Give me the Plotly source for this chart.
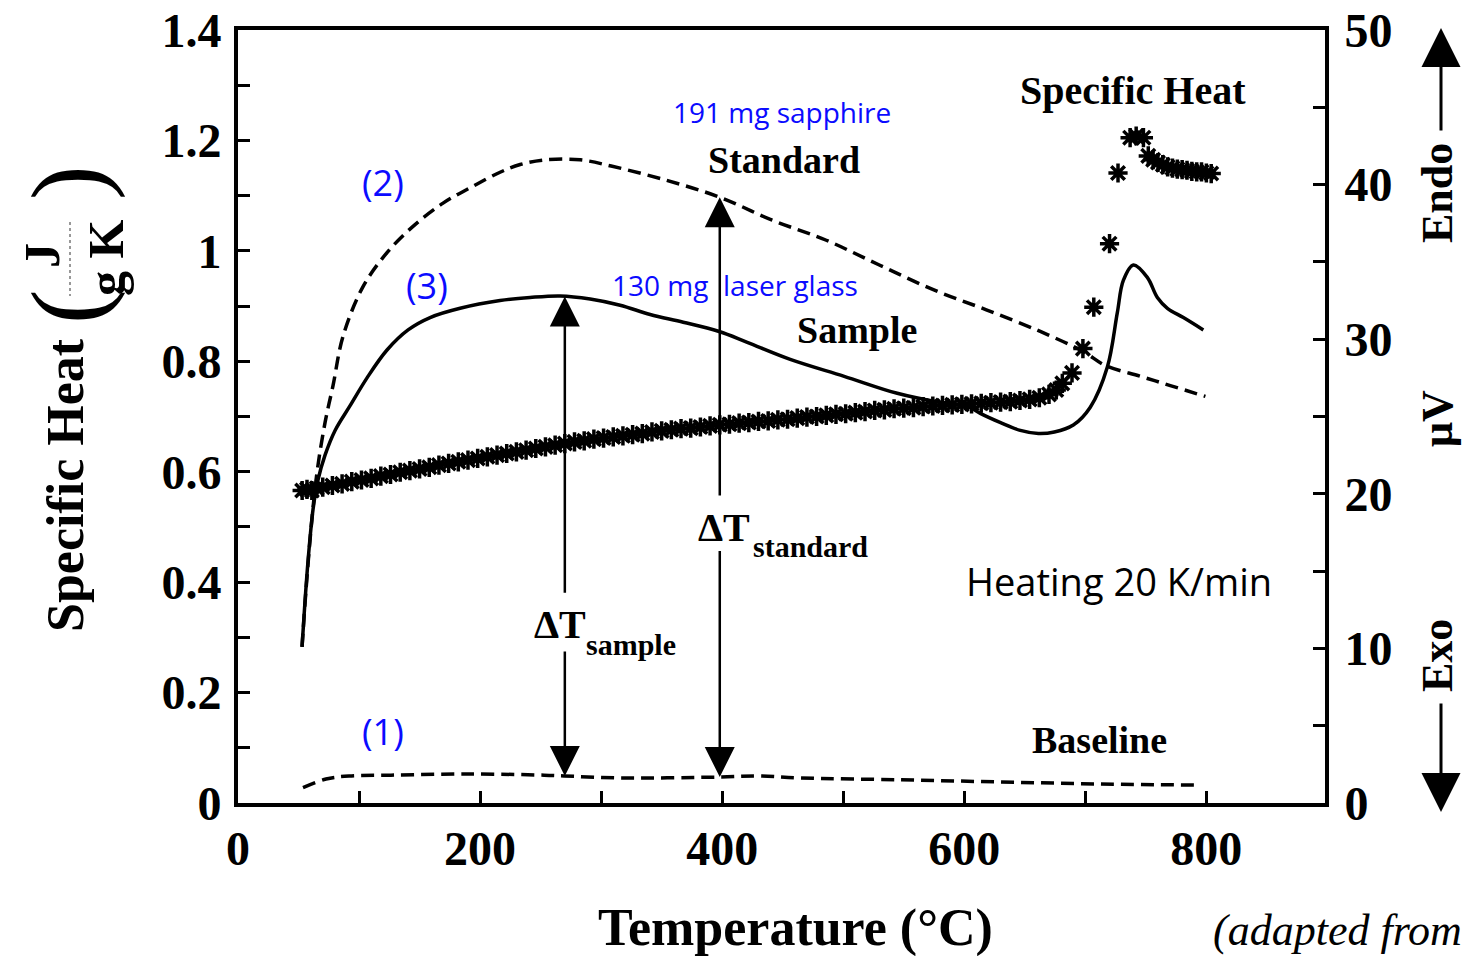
import numpy as np
import plotly.graph_objects as go

# ---------------------------------------------------------------
# DSC traces (right axis, µV) and computed specific heat (left axis)
# ---------------------------------------------------------------

# (1) empty-pan baseline
base_temp = [53.7, 72.7, 91.7, 126.4, 190.1, 252.9, 269.4, 316.5, 398.3,
             431.4, 464.5, 547.1, 629.8, 712.4, 795.0]
base_uv = [1.0, 1.55, 1.75, 1.8, 1.88, 1.8, 1.75, 1.62, 1.68,
           1.75, 1.62, 1.5, 1.36, 1.23, 1.16]

# (2) 191 mg sapphire standard
std_temp = [52.9, 56.2, 60.3, 65.3, 71.9, 78.5, 86.8, 103.3, 123.1, 144.6,
            169.4, 194.2, 216.5, 233.1, 253.7, 282.6, 308.3, 352.9, 397.5,
            441.3, 486.0, 529.8, 574.4, 618.2, 662.8, 698.3, 716.5, 745.5,
            770.2, 799.2]
std_uv = [10.1, 13.8, 17.7, 21.4, 24.6, 27.0, 30.2, 33.4, 35.6, 37.3,
          38.8, 39.9, 40.8, 41.3, 41.6, 41.6, 41.2, 40.3, 39.2,
          37.7, 36.4, 34.8, 33.2, 31.9, 30.5, 29.2, 28.3, 27.6,
          27.0, 26.3]

# (3) 130 mg laser glass sample
smp_temp = [52.9, 55.4, 57.9, 62.0, 66.1, 71.9, 80.2, 92.6, 106.6, 123.1,
            140.5, 158.7, 183.5, 216.5, 241.3, 266.1, 290.9, 315.7, 340.5,
            367.8, 397.5, 420.7, 456.2, 500.8, 544.6, 580.2, 604.1, 613.2,
            630.0, 646.3, 661.2, 674.4, 690.1, 704.1, 718.2, 726.4, 731.4,
            739.7, 751.2, 759.5, 767.8, 781.0, 797.5]
smp_uv = [10.1, 13.1, 15.7, 19.0, 20.9, 22.5, 24.1, 25.7, 27.5, 29.3,
          30.6, 31.4, 32.0, 32.5, 32.7, 32.8, 32.6, 32.2, 31.6,
          31.1, 30.5, 29.8, 28.7, 27.6, 26.5, 25.9, 25.6, 25.2,
          24.6, 24.1, 23.9, 24.0, 24.45, 25.6, 28.2, 31.7, 33.8,
          34.8, 34.0, 32.7, 32.0, 31.4, 30.6]

# specific heat of the glass, J/(g K)
cp_temp = [53, 57, 61, 65, 70, 78, 86, 94, 102, 110, 118, 126, 134, 142, 150,
           158, 166, 174, 182, 190, 198, 206, 214, 222, 230, 238, 246, 254,
           262, 270, 278, 286, 294, 302, 310, 318, 326, 334, 342, 350, 358,
           366, 374, 382, 390, 398, 406, 414, 422, 430, 438, 446, 454, 462,
           470, 478, 486, 494, 502, 510, 518, 526, 534, 542, 550, 558, 566,
           574, 582, 590, 598, 606, 614, 622, 630, 638, 646, 654, 662, 670,
           676, 681, 689, 698, 707, 720, 727, 737, 742, 748, 752, 756, 760,
           764, 768, 772, 776, 780, 784, 788, 792, 796, 800, 804]
cp_val = [0.566, 0.568, 0.566, 0.570, 0.572, 0.575, 0.578, 0.582, 0.585,
          0.588, 0.592, 0.595, 0.599, 0.602, 0.605, 0.608, 0.612, 0.615,
          0.618, 0.621, 0.624, 0.627, 0.630, 0.633, 0.636, 0.639, 0.642,
          0.645, 0.648, 0.651, 0.654, 0.656, 0.659, 0.661, 0.663, 0.665,
          0.667, 0.669, 0.672, 0.674, 0.676, 0.678, 0.679, 0.681, 0.683,
          0.685, 0.686, 0.688, 0.689, 0.691, 0.692, 0.694, 0.695, 0.697,
          0.699, 0.700, 0.702, 0.704, 0.705, 0.707, 0.709, 0.711, 0.712,
          0.714, 0.715, 0.716, 0.718, 0.719, 0.720, 0.721, 0.722, 0.723,
          0.724, 0.725, 0.726, 0.727, 0.729, 0.731, 0.734, 0.740,
          0.748, 0.760, 0.779, 0.823, 0.898, 1.013, 1.141, 1.205, 1.208,
          1.205, 1.172, 1.165, 1.160, 1.156, 1.152, 1.150, 1.148, 1.147,
          1.146, 1.144, 1.143, 1.143, 1.141, 1.140]

# axis ticks
x_tickvals = [0, 100, 200, 300, 400, 500, 600, 700, 800]
x_ticktext = ["0", "", "200", "", "400", "", "600", "", "800"]
cp_tickvals = [0, 0.1, 0.2, 0.3, 0.4, 0.5, 0.6, 0.7, 0.8, 0.9, 1.0, 1.1, 1.2, 1.3, 1.4]
cp_ticktext = ["0", "", "0.2", "", "0.4", "", "0.6", "", "0.8", "", "1", "", "1.2", "", "1.4"]
uv_tickvals = [0, 5, 10, 15, 20, 25, 30, 35, 40, 45, 50]
uv_ticktext = ["0", "", "10", "", "20", "", "30", "", "40", "", "50"]

# temperatures at which the ΔT arrows are drawn
t_arrow_sample = 270
t_arrow_standard = 398

# ---------------------------------------------------------------
W, H = 1468, 956
ML, MR, MT, MB = 238, 143, 30, 153
PW, PH = W - ML - MR, H - MT - MB

def px(x):
    return (x - ML) / PW

def py(y):
    return (H - MB - y) / PH

SERIF = "Liberation Serif"
SANS = "Open Sans"
BLUE = "#0b0bff"

fig = go.Figure()

dash_pat = "13px,7px"
fig.add_trace(go.Scatter(x=base_temp, y=base_uv, yaxis="y2", mode="lines",
                         line=dict(color="black", width=3.5, dash=dash_pat, shape="spline")))
fig.add_trace(go.Scatter(x=std_temp, y=std_uv, yaxis="y2", mode="lines",
                         line=dict(color="black", width=3.5, dash=dash_pat, shape="spline")))
fig.add_trace(go.Scatter(x=smp_temp, y=smp_uv, yaxis="y2", mode="lines",
                         line=dict(color="black", width=3.5, shape="spline")))
fig.add_trace(go.Scatter(x=cp_temp, y=cp_val, mode="markers",
                         marker=dict(symbol="asterisk-open", size=16, color="black",
                                     line=dict(color="black", width=3.5))))

tickfont = dict(family=SERIF, size=48, color="black", weight="bold")
axis_common = dict(showgrid=False, zeroline=False, showline=True, linecolor="black",
                   linewidth=4, ticks="inside", ticklen=12, tickwidth=3,
                   tickcolor="black", tickfont=tickfont, automargin=False)

fig.update_layout(
    width=W, height=H,
    margin=dict(l=ML, r=MR, t=MT, b=MB, autoexpand=False),
    paper_bgcolor="white", plot_bgcolor="white",
    showlegend=False,
    xaxis=dict(range=[0, 898], tickmode="array", tickvals=x_tickvals,
               ticktext=x_ticktext, mirror=True, ticklabelstandoff=0,
               **axis_common),
    yaxis=dict(range=[0, 1.4], tickmode="array", tickvals=cp_tickvals,
               ticktext=cp_ticktext, ticklabelstandoff=3, **axis_common),
    yaxis2=dict(range=[0, 50], overlaying="y", side="right", tickmode="array",
                tickvals=uv_tickvals, ticktext=uv_ticktext, ticklabelstandoff=6,
                **axis_common),
)


def label(text, x, y, size, family=SERIF, color="black", angle=0, xanchor="center"):
    fig.add_annotation(text=text, x=px(x), y=py(y), xref="paper", yref="paper",
                       showarrow=False, textangle=angle, xanchor=xanchor,
                       yanchor="middle", font=dict(family=family, size=size, color=color))


# curve labels
label("<b>Specific Heat</b>", 1133, 90, 40)
label("<b>Standard</b>", 784, 160, 38)
label("<b>Sample</b>", 857, 330, 38)
label("<b>Baseline</b>", 1099, 740, 38)
label("191 mg sapphire", 782, 112, 28, SANS, BLUE)
label("130 mg", 660, 285, 28, SANS, BLUE)
label("laser glass", 790, 285, 28, SANS, BLUE)
label("(2)", 383, 183, 36, SANS, BLUE)
label("(3)", 427, 285, 36, SANS, BLUE)
label("(1)", 383, 731, 36, SANS, BLUE)
label("Heating 20 K/min", 1119, 581, 38, SANS)

# ΔT labels
label("<b>ΔT</b>", 560, 624, 40)
label("<b>sample</b>", 631, 644, 30)
label("<b>ΔT</b>", 724, 527, 40)
label("<b>standard</b>", 810, 546, 30)

# axis titles
label("<b>Temperature (°C)</b>", 795, 928, 52)
label("<b>Specific Heat</b>", 65, 485, 52, angle=-90)
label("(", 68, 306, 104, angle=-90)
label(")", 68, 182, 104, angle=-90)
label("<b>J</b>", 42, 256, 50, angle=-90)
label("<b>g K</b>", 106, 258, 50, angle=-90)
fig.add_shape(type="line", xref="paper", yref="paper", x0=px(70), x1=px(70),
              y0=py(222), y1=py(296), line=dict(color="#777777", width=1.5, dash="dot"))

# right-hand µV axis legend
label("<b>Endo</b>", 1437, 193, 44, angle=-90)
label("<b>μV</b>", 1437, 418, 44, angle=-90)
label("<b>Exo</b>", 1437, 655, 44, angle=-90)
fig.add_annotation(x=px(1441), y=py(28), xref="paper", yref="paper", text="",
                   showarrow=True, ax=0, ay=104, arrowhead=2, arrowsize=2.6,
                   arrowwidth=3, arrowcolor="black", standoff=0)
fig.add_annotation(x=px(1441), y=py(812), xref="paper", yref="paper", text="",
                   showarrow=True, ax=0, ay=-110, arrowhead=2, arrowsize=2.6,
                   arrowwidth=3, arrowcolor="black", standoff=0)

# source note
label("<i>(adapted from</i>", 1211, 930, 44, xanchor="left")

# ΔT arrows between the baseline and each DSC trace
smp_at = float(np.interp(t_arrow_sample, smp_temp, smp_uv))
std_at = float(np.interp(t_arrow_standard, std_temp, std_uv))
base_smp = float(np.interp(t_arrow_sample, base_temp, base_uv))
base_std = float(np.interp(t_arrow_standard, base_temp, base_uv))

def arrow(t, tip, tail):
    fig.add_annotation(x=t, y=tip, ax=t, ay=tail, xref="x", yref="y2",
                       axref="x", ayref="y2", text="", showarrow=True,
                       arrowhead=2, arrowsize=2.4, arrowwidth=2.5,
                       arrowcolor="black", standoff=0)

arrow(t_arrow_sample, smp_at, 13.5)
arrow(t_arrow_sample, base_smp, 9.9)
arrow(t_arrow_standard, std_at, 19.8)
arrow(t_arrow_standard, base_std, 16.4)

fig.write_html("out.html")
